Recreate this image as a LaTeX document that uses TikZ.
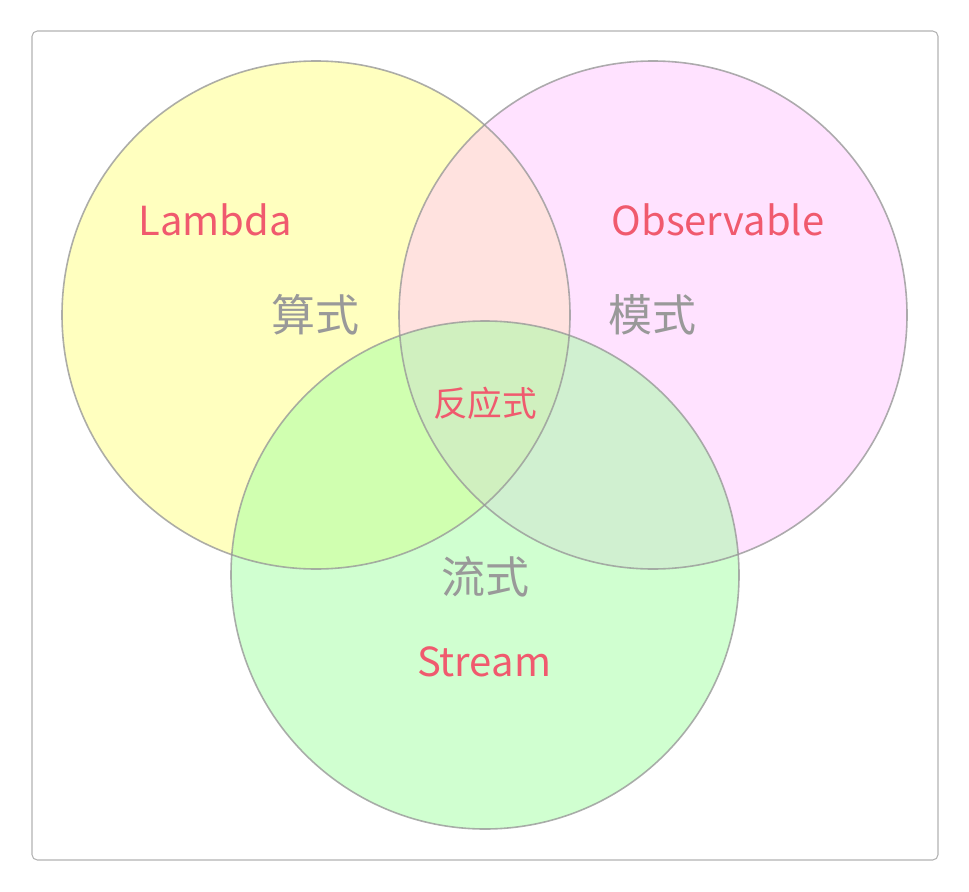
\documentclass[tikz,border=0pt]{standalone}
\usepackage{fontspec}
\setmainfont{Noto Sans CJK SC}
\begin{document}
\begin{tikzpicture}[x=0.75pt,y=-0.75pt,
  circ/.style={draw=black!40,line width=1.2pt,fill opacity=0.5},
  lbl/.style={text=red!60!pink, font=\fontsize{30}{32}\selectfont},
  cn/.style={text=black!40, font=\fontsize{33}{36}\selectfont}]
\definecolor{cy}{RGB}{255,255,128}
\definecolor{cp}{RGB}{255,197,255}
\definecolor{cg}{RGB}{161,255,161}
\definecolor{red!60!pink}{RGB}{240,90,110}
\useasboundingbox (0,0) rectangle (969,891);
\draw[black!30,line width=0.8pt,rounded corners=4pt] (32,31) rectangle (938,860);
\fill[cy,fill opacity=0.5] (316,315) circle (254);
\fill[cp,fill opacity=0.5] (653,315) circle (254);
\fill[cg,fill opacity=0.5] (485,575) circle (254);
\draw[black!40,line width=1.2pt,draw opacity=0.8] (316,315) circle (254);
\draw[black!40,line width=1.2pt,draw opacity=0.8] (653,315) circle (254);
\draw[black!40,line width=1.2pt,draw opacity=0.8] (485,575) circle (254);
\node[lbl] (l) at (215,220) {Lambda};
\node[lbl] (o) at (718,220) {Observable};
\node[lbl] (s) at (484,662) {Stream};
\node[cn] (a) at (315,315) {算式};
\node[cn] (m) at (652,315) {模式};
\node[cn] (f) at (485,577) {流式};
\node[lbl,font=\fontsize{26}{28}\selectfont] (r) at (485,403) {反应式};
\end{tikzpicture}
\end{document}
